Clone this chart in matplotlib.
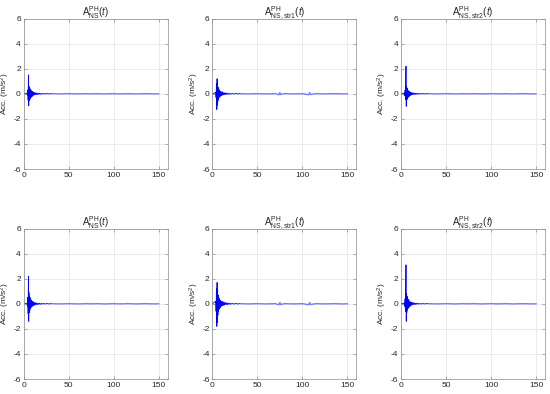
import matplotlib
matplotlib.use('Agg')
import matplotlib.pyplot as plt

plt.rcParams['font.family'] = ['Liberation Sans', 'DejaVu Sans']
plt.rcParams['mathtext.fontset'] = 'custom'
plt.rcParams['mathtext.rm'] = 'Liberation Sans'
plt.rcParams['mathtext.it'] = 'Liberation Sans:italic'
plt.rcParams['axes.unicode_minus'] = False

# time samples of the strong-motion part (s)
t_burst = [0, 3.8, 4.2, 4.6, 5.0, 5.3, 5.6, 5.9, 6.2, 6.5, 6.8, 7.1, 7.4, 7.7, 8.0,
           8.4, 8.8, 9.2, 9.6, 10.0, 10.5, 11.0, 11.5, 12.0, 12.6, 13.2, 13.8, 14.5,
           15.2, 16.0, 16.8, 17.6, 18.5, 19.5, 20.5, 22.0, 24.0, 26.0, 28.0, 30.0]
# time samples of the coda (s)
t_tail = [31, 40, 50, 60, 70, 74, 75, 76, 80, 90, 100, 107, 108, 109, 115, 125, 135, 145, 150]

# accelerations (m/s^2)
acc_ns_1 = [0, 0.05, -0.1, 0.3, -0.5, 1.5, -0.95, 0.6, -0.55, 0.5, -0.45, 0.4, -0.35, 0.35, -0.3,
            0.25, -0.25, 0.2, -0.2, 0.15, -0.15, 0.12, -0.1, 0.1, -0.08, 0.08, -0.07, 0.06,
            -0.06, 0.05, -0.05, 0.04, -0.04, 0.03, -0.03, 0.025, -0.02, 0.02, -0.015, 0.01]
acc_str1_1 = [0, 0.1, -0.3, 0.8, -1.25, 1.2, -0.9, 0.7, -0.6, 0.5, -0.45, 0.4, -0.3, 0.3, -0.25,
              0.2, -0.2, 0.18, -0.15, 0.15, -0.12, 0.15, -0.1, 0.1, -0.08, 0.08, -0.07, 0.08,
              -0.06, 0.05, -0.05, 0.04, -0.04, 0.03, -0.03, 0.025, -0.02, 0.02, -0.015, 0.01]
acc_str2_1 = [0, 0.05, -0.15, 0.3, -0.45, 0.5, 2.2, -1.0, 0.6, -0.5, 0.45, -0.4, 0.35, -0.3, 0.25,
              -0.25, 0.2, -0.2, 0.15, -0.15, 0.12, -0.1, 0.1, -0.08, 0.08, -0.07, 0.06, -0.06,
              0.05, -0.05, 0.04, -0.04, 0.03, -0.03, 0.025, -0.02, 0.02, -0.015, 0.01, 0]
acc_ns_2 = [0, 0.05, -0.2, 0.5, -0.8, 2.2, -1.4, 0.9, -0.7, 0.6, -0.55, 0.5, -0.4, 0.35, -0.3,
            0.3, -0.25, 0.2, -0.2, 0.18, -0.15, 0.15, -0.12, 0.1, -0.1, 0.08, -0.07, 0.06,
            -0.06, 0.05, -0.05, 0.04, -0.04, 0.03, -0.03, 0.025, -0.02, 0.02, -0.015, 0.01]
acc_str1_2 = [0, 0.2, -0.6, 1.2, -1.8, 1.7, -1.5, 1.1, -0.9, 0.7, -0.6, 0.5, -0.45, 0.4, -0.35,
              0.3, -0.3, 0.25, -0.2, 0.2, -0.18, 0.2, -0.15, 0.15, -0.12, 0.12, -0.1, 0.1,
              -0.08, 0.08, -0.07, 0.06, -0.05, 0.05, -0.04, 0.04, -0.03, 0.03, -0.02, 0.015]
acc_str2_2 = [0, 0.05, -0.2, 0.4, -0.6, 0.7, 3.1, -1.4, 0.8, -0.7, 0.6, -0.5, 0.45, -0.4, 0.35,
              -0.3, 0.25, -0.25, 0.2, -0.2, 0.15, -0.15, 0.12, -0.1, 0.1, -0.08, 0.08, -0.07,
              0.06, -0.05, 0.05, -0.04, 0.04, -0.03, 0.03, -0.025, 0.02, -0.015, 0.01, 0]

tail_plain = [0.01, -0.01, 0.01, -0.01, 0.01, -0.01, 0.01, -0.01, 0.01, -0.01,
              0.01, -0.01, 0.01, -0.01, 0.01, -0.01, 0.01, -0.01, 0]
tail_str1 = [0.01, -0.01, 0.01, -0.01, 0.01, -0.08, 0.1, -0.06, 0.01, -0.01,
             0.01, -0.08, 0.1, -0.06, 0.01, -0.01, 0.01, -0.01, 0]

titles = [r'$\mathrm{A}^{\mathrm{PH}}_{\mathrm{NS}}(\mathit{t})$',
          r'$\mathrm{A}^{\mathrm{PH}}_{\mathrm{NS,str1}}(\mathit{t})$',
          r'$\mathrm{A}^{\mathrm{PH}}_{\mathrm{NS,str2}}(\mathit{t})$'] * 2
bursts = [acc_ns_1, acc_str1_1, acc_str2_1, acc_ns_2, acc_str1_2, acc_str2_2]
tails = [tail_plain, tail_str1, tail_plain, tail_plain, tail_str1, tail_plain]

fig = plt.figure(figsize=(5.5, 3.94), dpi=100)
lefts = [0.043, 0.386, 0.729]
bottoms = [0.571, 0.038]
txt = '#262626'

for i in range(6):
    r, c = divmod(i, 3)
    ax = fig.add_axes([lefts[c], bottoms[r], 0.262, 0.382])
    ax.plot(t_tail, tails[i], color='#7a7aff', lw=1.0)
    ax.plot(t_burst, bursts[i], color='#0000ff', lw=0.6)
    ax.set_xlim(0, 160)
    ax.set_ylim(-6, 6)
    ax.set_xticks([0, 50, 100, 150])
    ax.set_yticks([-6, -4, -2, 0, 2, 4, 6])
    ax.grid(True, color='#e3e3e3', lw=0.5)
    ax.set_axisbelow(True)
    for s in ax.spines.values():
        s.set_color('#8c8c8c')
        s.set_linewidth(0.5)
    ax.tick_params(direction='in', length=2, width=0.5, color='#8c8c8c',
                   labelsize=6, labelcolor=txt, pad=2, top=True, right=True)
    ax.set_title(titles[i], fontsize=7, color=txt, pad=2)
    ax.set_ylabel(r'Acc. (m/s$^2$)', fontsize=6, color=txt, labelpad=1)

fig.savefig('out.png', dpi=100)
